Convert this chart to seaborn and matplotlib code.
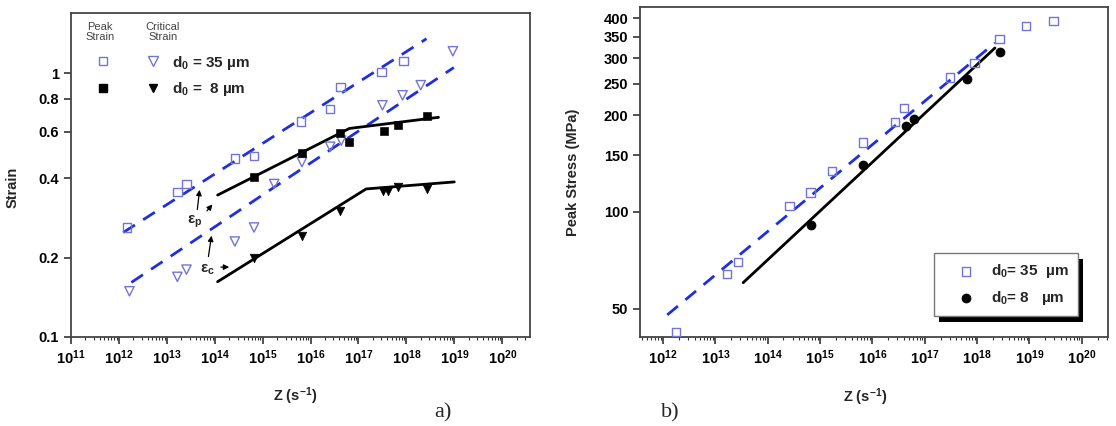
import numpy as np
import pandas as pd
import matplotlib
matplotlib.use('Agg')
import matplotlib.pyplot as plt
import seaborn as sns
from matplotlib.lines import Line2D
from matplotlib.legend_handler import HandlerTuple
from matplotlib.ticker import FixedLocator, NullLocator, LogLocator, NullFormatter
from matplotlib.patches import Rectangle
from matplotlib.transforms import IdentityTransform

# ---- data (log10 Z, values) ----
# panel a) strain vs Z
peak35_logz = [12.17, 13.22, 13.41, 14.42, 14.82, 15.80, 16.41, 16.62, 17.48, 17.94]
peak35_val = [0.26, 0.355, 0.38, 0.474, 0.486, 0.656, 0.73, 0.885, 1.01, 1.11]
crit35_logz = [12.22, 13.22, 13.41, 14.42, 14.82, 15.24, 15.82, 16.41, 16.64, 17.50, 17.92, 18.30, 18.97]
crit35_val = [0.149, 0.169, 0.18, 0.23, 0.26, 0.38, 0.46, 0.526, 0.555, 0.755, 0.824, 0.90, 1.21]
peak8_logz = [14.82, 15.82, 16.62, 16.81, 17.54, 17.83, 18.44]
peak8_val = [0.405, 0.50, 0.595, 0.55, 0.605, 0.634, 0.69]
crit8_logz = [14.82, 15.82, 16.62, 17.52, 17.62, 17.83, 18.44]
crit8_val = [0.20, 0.241, 0.30, 0.357, 0.357, 0.37, 0.364]

# fitted lines panel a)
fit_peak35_logz = [12.09, 18.42]
fit_peak35_val = [0.249, 1.35]
fit_crit35_logz = [12.26, 18.99]
fit_crit35_val = [0.161, 1.05]
fit_peak8_logz = [14.06, 16.81, 18.67]
fit_peak8_val = [0.345, 0.617, 0.68]
fit_crit8_logz = [14.06, 17.16, 19.0]
fit_crit8_val = [0.162, 0.364, 0.387]

# panel b) peak stress vs Z
stress35_logz = [12.25, 13.22, 13.43, 14.42, 14.82, 15.23, 15.82, 16.43, 16.60, 17.48, 17.95, 18.43, 18.93, 19.46]
stress35_val = [42.4, 64.2, 70, 104.4, 115, 134, 164, 190, 210, 262, 290, 344, 378, 392]
stress8_logz = [14.82, 15.82, 16.64, 16.79, 17.80, 18.43]
stress8_val = [91.2, 140, 185, 195, 259, 314]
fit_stress35_logz = [12.08, 18.34]
fit_stress35_val = [47.9, 335]
fit_stress8_logz = [13.53, 18.34]
fit_stress8_val = [60.3, 323]

strain_ticks = [0.1, 0.2, 0.4, 0.6, 0.8, 1]
strain_ticklabels = ['0.1', '0.2', '0.4', '0.6', '0.8', '1']
stress_ticks = [50, 100, 150, 200, 250, 300, 350, 400]
z_exponents = list(range(11, 21))

open_col = '#7474d6'
dash_col = '#1f2fe0'

sns.set_style('ticks')
plt.rcParams['font.family'] = ['Liberation Sans', 'DejaVu Sans']
plt.rcParams['font.weight'] = 'bold'
plt.rcParams['mathtext.fontset'] = 'custom'
plt.rcParams['mathtext.rm'] = 'Liberation Sans:bold'
plt.rcParams['mathtext.bf'] = 'Liberation Sans:bold'
plt.rcParams['mathtext.it'] = 'Liberation Sans:bold:italic'
plt.rcParams['mathtext.default'] = 'rm'

fig = plt.figure(figsize=(11.16, 4.26), dpi=100)
ax1 = fig.add_axes([71 / 1116, 89 / 426, 459 / 1116, 324 / 426])
ax2 = fig.add_axes([640 / 1116, 89 / 426, 468 / 1116, 330 / 426])

def zval(logs):
    return 10.0 ** np.array(logs)

def style_axis(ax, xmin, xmax, ymin, ymax, yticks, ylabels):
    ax.set_xscale('log')
    ax.set_yscale('log')
    ax.set_xlim(xmin, xmax)
    ax.set_ylim(ymin, ymax)
    ax.xaxis.set_major_locator(FixedLocator([10.0 ** e for e in z_exponents]))
    ax.set_xticklabels([r'$10^{%d}$' % e for e in z_exponents])
    ax.xaxis.set_minor_locator(LogLocator(base=10, subs=np.arange(2, 10), numticks=50))
    ax.xaxis.set_minor_formatter(NullFormatter())
    ax.yaxis.set_major_locator(FixedLocator(yticks))
    ax.set_yticklabels(ylabels)
    ax.yaxis.set_minor_locator(NullLocator())
    ax.tick_params(axis='both', which='major', direction='out', length=5, width=1.2,
                   labelsize=10.5, colors='#333333', labelcolor='black')
    ax.tick_params(axis='x', which='minor', direction='out', length=2.5, width=0.8, colors='#333333')
    for sp in ax.spines.values():
        sp.set_linewidth(1.3)
        sp.set_color('#444444')
        sp.set_visible(True)

# ---------- panel a ----------
sns.lineplot(x=zval(fit_peak35_logz), y=fit_peak35_val, ax=ax1, color=dash_col, lw=2,
             linestyle=(0, (5, 3.5)), sort=False, estimator=None)
sns.lineplot(x=zval(fit_crit35_logz), y=fit_crit35_val, ax=ax1, color=dash_col, lw=2,
             linestyle=(0, (5, 3.5)), sort=False, estimator=None)
sns.lineplot(x=zval(fit_peak8_logz), y=fit_peak8_val, ax=ax1, color='black', lw=2,
             sort=False, estimator=None)
sns.lineplot(x=zval(fit_crit8_logz), y=fit_crit8_val, ax=ax1, color='black', lw=2,
             sort=False, estimator=None)
sns.scatterplot(x=zval(peak35_logz), y=peak35_val, ax=ax1, marker='s', s=38,
                facecolor='none', edgecolor=open_col, linewidth=1, zorder=3)
sns.scatterplot(x=zval(crit35_logz), y=crit35_val, ax=ax1, marker='v', s=45,
                facecolor='none', edgecolor=open_col, linewidth=1, zorder=3)
sns.scatterplot(x=zval(peak8_logz), y=peak8_val, ax=ax1, marker='s', s=30,
                color='black', edgecolor='black', zorder=3)
sns.scatterplot(x=zval(crit8_logz), y=crit8_val, ax=ax1, marker='v', s=38,
                color='black', edgecolor='black', zorder=3)
style_axis(ax1, 1e11, 10 ** 20.58, 0.1, 1.69, strain_ticks, strain_ticklabels)
ax1.set_xlabel(r'Z (s$^{-1}$)', fontsize=10.5, fontweight='bold')
ax1.set_ylabel('Strain', fontsize=10.5, fontweight='bold')
ax1.xaxis.set_label_coords(0.488, -0.15)
ax1.yaxis.set_label_coords(-0.112, 0.463)

# epsilon annotations
arrow_kw = dict(arrowstyle='-|>', color='black', lw=0.9, mutation_scale=8)
ax1.annotate('', xy=(10 ** 13.69, 0.37), xytext=(10 ** 13.63, 0.297), arrowprops=arrow_kw)
ax1.annotate('', xy=(10 ** 13.99, 0.324), xytext=(10 ** 13.80, 0.295), arrowprops=arrow_kw)
ax1.annotate('', xy=(10 ** 13.94, 0.248), xytext=(10 ** 13.86, 0.197), arrowprops=arrow_kw)
ax1.annotate('', xy=(10 ** 14.36, 0.184), xytext=(10 ** 14.07, 0.184), arrowprops=arrow_kw)
ax1.text(10 ** 13.59, 0.273, r'$\epsilon_{p}$', fontsize=11, ha='center', va='center')
ax1.text(10 ** 13.84, 0.180, r'$\epsilon_{c}$', fontsize=11, ha='center', va='center')

# two-column legend (peak / critical)
h35 = (Line2D([], [], marker='s', ls='none', mfc='none', mec=open_col, ms=6),
       Line2D([], [], marker='v', ls='none', mfc='none', mec=open_col, ms=7))
h8 = (Line2D([], [], marker='s', ls='none', mfc='black', mec='black', ms=5.5),
      Line2D([], [], marker='v', ls='none', mfc='black', mec='black', ms=6))
leg1 = ax1.legend([h35, h8], [r'd$_{\mathregular{0}}$ = 35 µm', r'd$_{\mathregular{0}}$ =  8 µm'],
                  handler_map={tuple: HandlerTuple(ndivide=None, pad=1.39)},
                  loc='upper left', bbox_to_anchor=(0.038, 0.875), borderaxespad=0,
                  borderpad=0, handlelength=5.16, handletextpad=0.3, labelspacing=0.55,
                  frameon=False, prop={'size': 11, 'weight': 'bold'})
ax1.text(0.063, 0.94, 'Peak\nStrain', transform=ax1.transAxes, fontsize=8,
         fontweight='normal', ha='center', va='center', color='#444444', linespacing=1.0)
ax1.text(0.2, 0.94, 'Critical\nStrain', transform=ax1.transAxes, fontsize=8,
         fontweight='normal', ha='center', va='center', color='#444444', linespacing=1.0)

# ---------- panel b ----------
sns.lineplot(x=zval(fit_stress35_logz), y=fit_stress35_val, ax=ax2, color=dash_col, lw=2,
             linestyle=(0, (5, 3.5)), sort=False, estimator=None)
sns.lineplot(x=zval(fit_stress8_logz), y=fit_stress8_val, ax=ax2, color='black', lw=2,
             sort=False, estimator=None)
sns.scatterplot(x=zval(stress35_logz), y=stress35_val, ax=ax2, marker='s', s=38,
                facecolor='none', edgecolor=open_col, linewidth=1, zorder=3,
                label=r'd$_{\mathregular{0}}$= 35  µm')
sns.scatterplot(x=zval(stress8_logz), y=stress8_val, ax=ax2, marker='o', s=42,
                color='black', edgecolor='black', zorder=3,
                label=r'd$_{\mathregular{0}}$= 8   µm')
style_axis(ax2, 10 ** 11.56, 10 ** 20.5, 40.9, 433, stress_ticks, [str(t) for t in stress_ticks])
ax2.set_xlabel(r'Z (s$^{-1}$)', fontsize=10.5, fontweight='bold')
ax2.set_ylabel('Peak Stress (MPa)', fontsize=10.5, fontweight='bold')
ax2.xaxis.set_label_coords(0.481, -0.15)
ax2.yaxis.set_label_coords(-0.128, 0.5)

handles, labels = ax2.get_legend_handles_labels()
leg2 = ax2.legend(handles, labels, loc='lower right', bbox_to_anchor=(0.936, 0.064),
                  borderaxespad=0, borderpad=0.6, handlelength=3.0, handletextpad=0.15,
                  labelspacing=0.55, fancybox=False, framealpha=1,
                  edgecolor='#777777', prop={'size': 11, 'weight': 'bold'})
leg2.get_frame().set_linewidth(1.0)
leg2.set_zorder(10)

# black drop shadow behind legend b
fig.canvas.draw()
bb = leg2.get_window_extent()
shadow = Rectangle((bb.x0 + 5, bb.y0 - 6), bb.width, bb.height, transform=IdentityTransform(),
                   facecolor='black', edgecolor='none', zorder=9)
ax2.add_artist(shadow)
shadow.set_clip_on(False)

fig.text(443 / 1116, 0.03, 'a)', fontsize=16, family='Liberation Serif',
         fontweight='normal', ha='center', va='center')
fig.text(670 / 1116, 0.03, 'b)', fontsize=16, family='Liberation Serif',
         fontweight='normal', ha='center', va='center')

fig.savefig('out.png', dpi=100)
